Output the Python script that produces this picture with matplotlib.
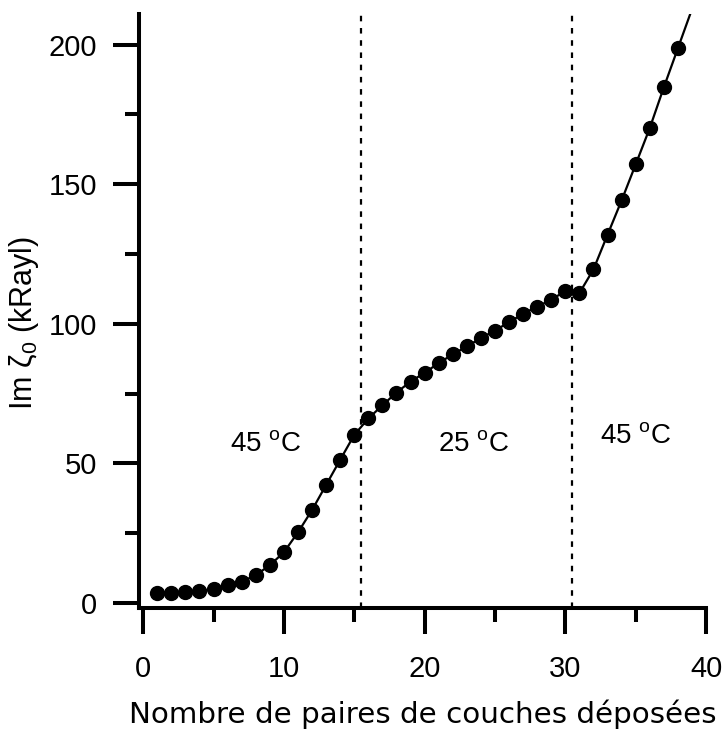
import numpy as np
import matplotlib
matplotlib.use("Agg")
import matplotlib.pyplot as plt
from matplotlib.ticker import MultipleLocator

# nombre de paires de couches et partie imaginaire de l'impedance (kRayl)
n_couches = np.arange(1, 39)
im_zeta = [3.5, 3.7, 3.8, 4.3, 5.1, 6.3, 7.6, 10.0, 13.5, 18.2,
           25.3, 33.3, 42.3, 51.3, 60.2, 66.1, 70.8, 75.4, 79.3, 82.5,
           85.9, 89.1, 91.9, 94.9, 97.6, 100.6, 103.6, 106.2, 108.6, 111.8,
           111.0, 119.5, 131.9, 144.2, 157.1, 170.1, 184.7, 198.7]

changements_temp = [15.5, 30.5]
zones_temp = ["45 $^{\\mathrm{o}}$C", "25 $^{\\mathrm{o}}$C", "45 $^{\\mathrm{o}}$C"]
zones_x = [8.7, 23.5, 35.0]
zones_y = [57, 57, 60]

plt.rcParams['font.family'] = ['Liberation Sans', 'DejaVu Sans']
plt.rcParams['mathtext.fontset'] = 'custom'
plt.rcParams['mathtext.rm'] = 'Liberation Sans'
plt.rcParams['mathtext.it'] = 'Liberation Sans:italic'
plt.rcParams['xtick.labelsize'] = 21
plt.rcParams['ytick.labelsize'] = 21

fig = plt.figure(figsize=(7.25, 7.33), dpi=100)
ax = fig.add_axes([0.1917, 0.1705, 0.7821, 0.8104])

# courbe prolongee au dela du dernier point (coupee par les limites)
pente = (im_zeta[-1] - im_zeta[-2]) / (n_couches[-1] - n_couches[-2])
x_ligne = list(n_couches) + [n_couches[-1] + 1]
y_ligne = list(im_zeta) + [im_zeta[-1] + pente]
ax.plot(x_ligne, y_ligne, color='black', lw=1.6, zorder=2)
ax.plot(n_couches, im_zeta, 'o', color='black', ms=10, zorder=3)

for xc in changements_temp:
    ax.axvline(xc, color='black', lw=1.6, ls=(0, (2.5, 3)), zorder=1)

for txt, xt, yt in zip(zones_temp, zones_x, zones_y):
    ax.text(xt, yt, txt, fontsize=20, ha='center', va='center')

ax.set_xlim(-0.3, 40)
ax.set_ylim(-1.8, 211)
ax.spines['top'].set_visible(False)
ax.spines['right'].set_visible(False)
ax.spines['left'].set_linewidth(2.9)
ax.spines['bottom'].set_linewidth(2.9)

ax.xaxis.set_major_locator(MultipleLocator(10))
ax.xaxis.set_minor_locator(MultipleLocator(5))
ax.yaxis.set_major_locator(MultipleLocator(50))
ax.yaxis.set_minor_locator(MultipleLocator(25))
ax.tick_params(which='major', direction='out', length=19, width=2.9)
ax.tick_params(which='minor', direction='out', length=10, width=2.9)
ax.tick_params(axis='x', which='major', pad=15)
ax.tick_params(axis='y', which='major', pad=11)

ax.set_ylabel("Im ζ$_0$ (kRayl)", fontsize=22)
ax.yaxis.set_label_coords(-0.172, 0.48)
ax.set_xlabel("Nombre de paires de couches déposées", fontsize=21.2,
              family='DejaVu Sans', labelpad=12)

fig.savefig("out.png", dpi=100)
